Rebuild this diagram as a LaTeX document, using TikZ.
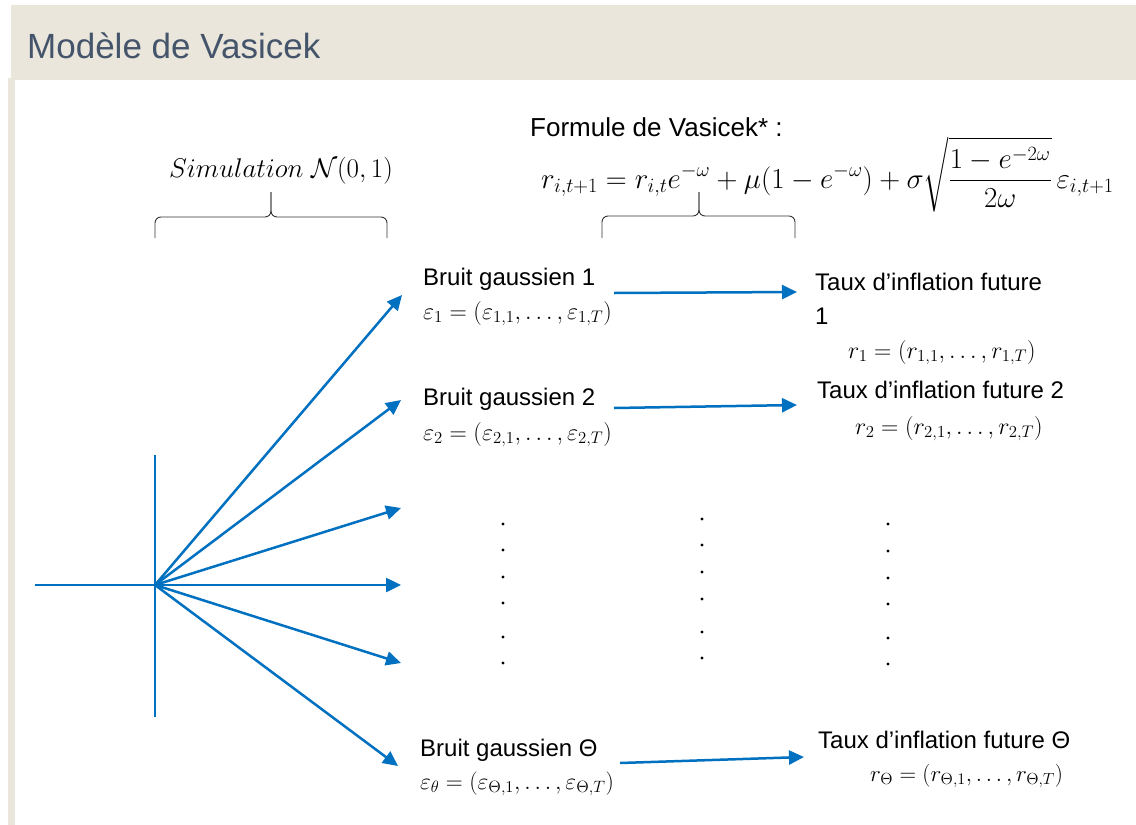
\RequirePackage{fix-cm}
\documentclass[tikz,border=0pt]{standalone}
\usepackage{amsmath}
\usepackage[no-math]{fontspec}
\setmainfont{Liberation Sans}
\usetikzlibrary{arrows.meta}
\definecolor{hdr}{HTML}{EAE6DB}
\definecolor{ttl}{HTML}{44546A}
\definecolor{arrblue}{HTML}{0070C0}
\newcommand\setfs[1]{\fontsize{#1}{#1}\selectfont}
\tikzset{
  txt/.style={inner sep=0pt, font=\setfs{24}},
  mth/.style={inner sep=0pt, font=\setfs{24}},
  arr/.style={draw=arrblue, line width=2.5pt, -{Triangle[length=15pt,width=14pt]}},
  ln/.style={draw=arrblue, line width=2.5pt},
  brc/.style={draw=black!80, line width=0.9pt, rounded corners=6pt},
  dotmark/.style={fill=black}
}
\begin{document}
\begin{tikzpicture}[x=1pt,y=-1pt]
\useasboundingbox (0,0) rectangle (1136,825);
\fill[white] (0,0) rectangle (1136,825);
\fill[hdr] (11,5) rectangle (1136,80);
\fill[hdr] (8,78) rectangle (15,825);
\node[anchor=base west, inner sep=0pt, font=\setfs{35}, text=ttl] (title) at (27,58) {Modèle de Vasicek};

% formula
\node[txt, anchor=base west, font=\setfs{26}] (flabel) at (530,136) {Formule de Vasicek* :};
\node[mth, anchor=base west, font=\setfs{29}] (formula) at (541,188) {$\displaystyle r_{i,t+1} = r_{i,t}e^{-\omega} + \mu(1-e^{-\omega}) + \sigma\sqrt{\frac{1-e^{-2\omega}}{2\omega}}\,\varepsilon_{i,t+1}$};
\node[mth, anchor=base, font=\setfs{27}] (sim) at (281,177) {$Simulation\ \mathcal{N}(0,1)$};

% braces
\draw[brc] (155,238) -- (155,217) -- (271,217) -- (271,192);
\draw[brc] (387,238) -- (387,217) -- (271,217) -- (271,192);
\draw[brc] (602,238) -- (602,216) -- (699,216) -- (699,192);
\draw[brc] (795,238) -- (795,216) -- (699,216) -- (699,192);

% noise texts
\node[txt, anchor=base west] (n1) at (423,285) {Bruit gaussien 1};
\node[mth, anchor=base west] (e1) at (423,319) {$\varepsilon_1 = (\varepsilon_{1,1}, \ldots, \varepsilon_{1,T})$};
\node[txt, anchor=base west] (n2) at (423,405) {Bruit gaussien 2};
\node[mth, anchor=base west] (e2) at (423,440) {$\varepsilon_2 = (\varepsilon_{2,1}, \ldots, \varepsilon_{2,T})$};
\node[txt, anchor=base west] (n3) at (420,756) {Bruit gaussien Θ};
\node[mth, anchor=base west, font=\setfs{23.5}] (e3) at (420,789) {$\varepsilon_\theta = (\varepsilon_{\Theta,1}, \ldots, \varepsilon_{\Theta,T})$};

% rate texts
\node[txt, anchor=base west] (t1) at (815,290) {Taux d’inflation future};
\node[txt, anchor=base west] (t1b) at (815,324) {1};
\node[mth, anchor=base west] (r1) at (848,358) {$r_1 = (r_{1,1}, \ldots, r_{1,T})$};
\node[txt, anchor=base west] (t2) at (817,398) {Taux d’inflation future 2};
\node[mth, anchor=base west] (r2) at (855,434) {$r_2 = (r_{2,1}, \ldots, r_{2,T})$};
\node[txt, anchor=base west] (t3) at (818,748) {Taux d’inflation future Θ};
\node[mth, anchor=base west, font=\setfs{23}] (r3) at (870,781) {$r_\Theta = (r_{\Theta,1}, \ldots, r_{\Theta,T})$};

% fan
\coordinate (O) at (155,585);
\coordinate (h0) at (35,585);
\coordinate (v0) at (155,455);
\coordinate (v1) at (155,717);
\coordinate (f1) at (402,295);
\coordinate (f2) at (401,400);
\coordinate (f3) at (401,508);
\coordinate (f4) at (401,585);
\coordinate (f5) at (401,663);
\coordinate (f6) at (398,766);
\draw[ln] (h0) -- (O);
\draw[ln] (v0) -- (v1);
\foreach \f in {f1,f2,f3,f4,f5,f6} \draw[arr] (O) -- (\f);

% horizontal arrows
\coordinate (a1s) at (614,293); \coordinate (a1e) at (797,292);
\coordinate (a2s) at (614,408); \coordinate (a2e) at (797,405);
\coordinate (a3s) at (620,763); \coordinate (a3e) at (804,757);
\draw[arr] (a1s) -- (a1e);
\draw[arr] (a2s) -- (a2e);
\draw[arr] (a3s) -- (a3e);

% vertical dots
\foreach \y in {524,550,577,603,637,663} \fill[dotmark] (503,\y) circle (1.6);
\foreach \y in {519,545,572,599,632,658} \fill[dotmark] (702,\y) circle (1.6);
\foreach \y in {524,551,578,604,638,664} \fill[dotmark] (888,\y) circle (1.6);
\end{tikzpicture}
\end{document}
